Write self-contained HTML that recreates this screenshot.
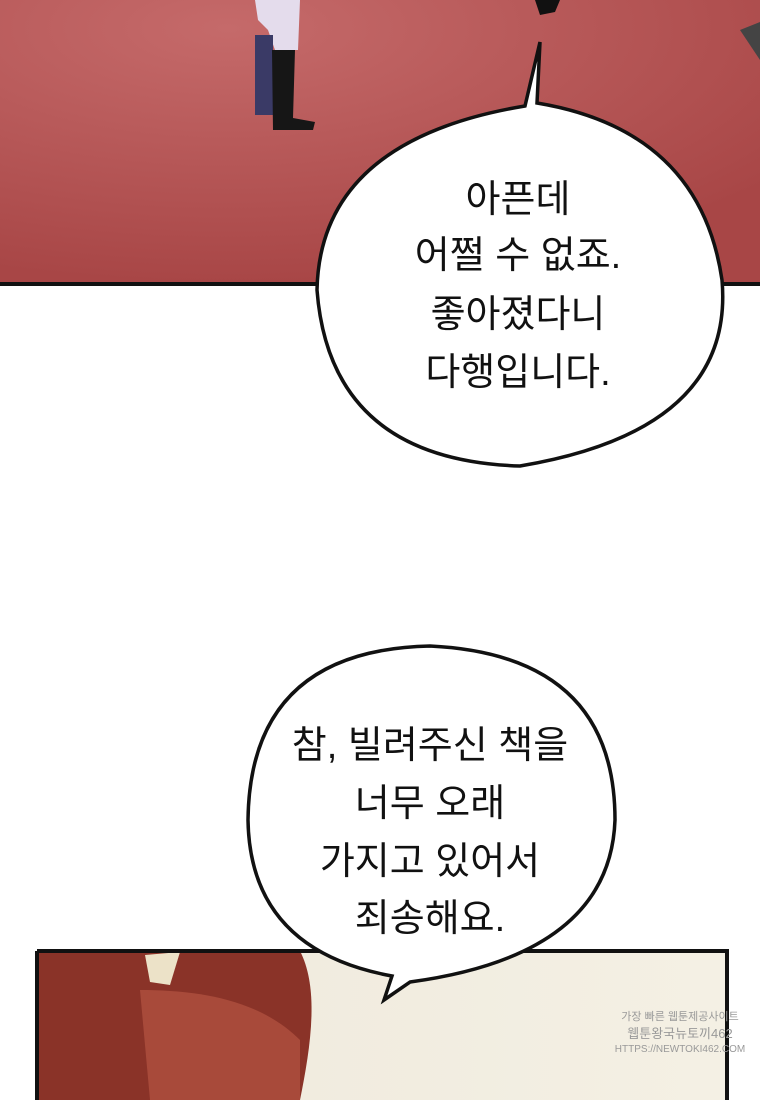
<!DOCTYPE html>
<html><head><meta charset="utf-8">
<style>
html,body{margin:0;padding:0;background:#fff;}
body{width:760px;height:1100px;overflow:hidden;position:relative;}
svg{position:absolute;left:0;top:0;}
text{font-family:"Liberation Sans","Noto Sans CJK KR",sans-serif;font-size:38px;fill:#111;text-anchor:middle;}
</style></head><body>
<svg width="760" height="1100" viewBox="0 0 760 1100">
<defs>
<radialGradient id="rg" cx="0.3" cy="0.1" r="0.9">
<stop offset="0" stop-color="#c56a6a"/><stop offset="1" stop-color="#a84646"/>
</radialGradient>
<linearGradient id="bg2" x1="0" y1="0" x2="1" y2="0">
<stop offset="0" stop-color="#efe9dc"/><stop offset="1" stop-color="#f4f0e4"/>
</linearGradient>
</defs>
<!-- top panel -->
<rect x="0" y="0" width="760" height="284" fill="url(#rg)"/>
<!-- legs -->
<path d="M255 0 L300 0 L298 50 L275 50 L268 30 L258 20 Z" fill="#e4dcec"/>
<rect x="255" y="35" width="18" height="80" fill="#3a3a66"/>
<path d="M272 50 L295 50 L293 118 L315 122 L313 130 L273 130 Z" fill="#161616"/>
<path d="M535 0 L560 0 L555 12 L540 15 Z" fill="#111"/>
<path d="M740 30 L760 22 L760 60 Z" fill="#444"/>
<line x1="0" y1="284" x2="760" y2="284" stroke="#111" stroke-width="4"/>
<!-- bottom panel -->
<rect x="37" y="951" width="690" height="149" fill="url(#bg2)"/>
<path d="M37 951 L300 951 C320 990 310 1050 300 1100 L37 1100 Z" fill="#8a3328"/>
<path d="M140 990 C200 990 260 1000 300 1040 L300 1100 L150 1100 Z" fill="#a84a3a"/>
<path d="M145 955 L180 952 L170 985 L150 982 Z" fill="#ece2c8"/>
<path d="M37 951 L727 951 L727 1100" fill="none" stroke="#111" stroke-width="4"/>
<line x1="37" y1="951" x2="37" y2="1100" stroke="#111" stroke-width="4"/>
<text x="680" y="1020" style="font-size:11px;fill:#999">가장 빠른 웹툰제공사이트</text>
<text x="680" y="1038" style="font-size:13px;fill:#999">웹툰왕국뉴토끼462</text>
<text x="680" y="1052" style="font-size:10px;fill:#999">HTTPS://NEWTOKI462.COM</text>
<!-- bubble 1 -->
<path d="M525 106 L540 42 L537 103 Q700 130 722 280 Q735 430 520 466 Q330 460 317 290 Q320 140 525 106 Z" fill="#fff" stroke="#111" stroke-width="3.5" stroke-linejoin="miter"/>
<text x="518" y="212">아픈데</text>
<text x="518" y="268">어쩔 수 없죠.</text>
<text x="518" y="327">좋아졌다니</text>
<text x="518" y="385">다행입니다.</text>
<!-- bubble 2 -->
<path d="M248 820 Q250 650 430 646 Q615 655 615 820 Q610 955 410 982 L384 1000 L392 976 Q250 950 248 820 Z" fill="#fff" stroke="#111" stroke-width="3.5" stroke-linejoin="miter"/>
<text x="430" y="758">참, 빌려주신 책을</text>
<text x="430" y="816">너무 오래</text>
<text x="430" y="874">가지고 있어서</text>
<text x="430" y="931">죄송해요.</text>
</svg>
</body></html>
